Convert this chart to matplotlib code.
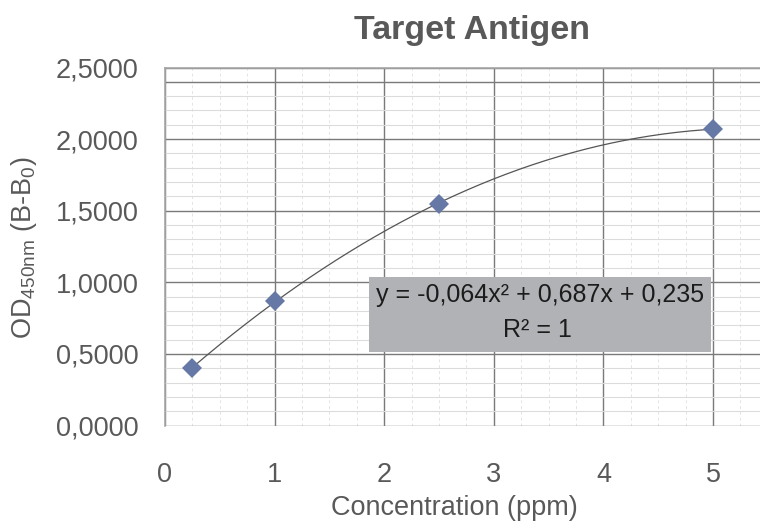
import numpy as np
import matplotlib
matplotlib.use("Agg")
import matplotlib.pyplot as plt
from matplotlib.patches import Rectangle
from matplotlib.ticker import MultipleLocator, FuncFormatter

# данные калибровочной кривой
concentration = [0.25, 1.0, 2.5, 5.0]
od_values = [0.40, 0.87, 1.55, 2.07]
fit_text = "y = -0,064x² + 0,687x + 0,235"
r2_text = "R² = 1"

plt.rcParams['font.family'] = ['Liberation Sans', 'DejaVu Sans']
plt.rcParams['mathtext.fontset'] = 'custom'
plt.rcParams['mathtext.rm'] = 'Liberation Sans'

text_gray = '#595959'
dark_grid = '#7a7a7a'

fig = plt.figure(figsize=(7.6, 5.24), dpi=100)
ax = fig.add_axes([165 / 760, 1 - 425.5 / 524, 595 / 760, 358 / 524])

ax.set_xlim(0, 595 / 109.6)
ax.set_ylim(0, 2.5)

# сетка
ax.xaxis.set_major_locator(MultipleLocator(1))
ax.xaxis.set_minor_locator(MultipleLocator(0.25))
ax.yaxis.set_major_locator(MultipleLocator(0.5))
ax.yaxis.set_minor_locator(MultipleLocator(0.1))
ax.grid(True, which='major', axis='both', color=dark_grid, linewidth=1.0, zorder=1)
ax.grid(True, which='minor', axis='y', color='#dcdcdc', linewidth=0.8, zorder=0)
ax.grid(True, which='minor', axis='x', color='#e4e4e4', linewidth=0.7,
        linestyle=(0, (3, 3)), zorder=0)
ax.axhline(2.4, color=dark_grid, linewidth=1.0, zorder=1)
ax.set_axisbelow(True)

for side in ['right', 'bottom']:
    ax.spines[side].set_visible(False)
for side in ['left', 'top']:
    ax.spines[side].set_color('#a6a6a6')
    ax.spines[side].set_linewidth(1.2)

ax.tick_params(which='both', length=0)
ax.tick_params(axis='y', pad=19, labelsize=19.5, labelcolor=text_gray)
ax.tick_params(axis='x', pad=26, labelsize=19.5, labelcolor=text_gray)
ax.yaxis.set_major_formatter(FuncFormatter(lambda v, p: f"{v:.4f}".replace('.', ',')))
ax.xaxis.set_major_formatter(FuncFormatter(lambda v, p: f"{v:.0f}"))

# полиномиальная линия тренда 2-й степени
coef = np.polyfit(concentration, od_values, 2)
xs = np.linspace(min(concentration), max(concentration), 200)
ax.plot(xs, np.polyval(coef, xs), color='#555555', linewidth=0.9, zorder=3)

ax.plot(concentration, od_values, linestyle='none', marker='D', markersize=9.7,
        color='#6679a6', markeredgewidth=0, zorder=4, clip_on=False)

# подпись уравнения
ax.add_patch(Rectangle((0.343, 0.2045), 0.575, 0.2095, transform=ax.transAxes,
                       facecolor='#b1b2b5', edgecolor='none', zorder=5))
ax.text(0.630, 0.3645, fit_text, transform=ax.transAxes, ha='center', va='center',
        fontsize=18, color='#1c1c1c', zorder=6)
ax.text(0.626, 0.267, r2_text, transform=ax.transAxes, ha='center', va='center',
        fontsize=18, color='#1c1c1c', zorder=6)

fig.text(472 / 760, 1 - 30 / 524, 'Target Antigen', ha='center', va='center',
         fontsize=24.5, fontweight='bold', color=text_gray)
fig.text(454 / 760, 1 - 508 / 524, 'Concentration (ppm)', ha='center', va='center',
         fontsize=19.5, color=text_gray)
fig.text(24 / 760, 1 - 248 / 524, r'OD$_{\mathregular{450nm}}$ (B-B$_{\mathregular{0}}$)',
         rotation=90, ha='center', va='center', fontsize=19.5, color=text_gray)

fig.savefig('out.png', dpi=100)
